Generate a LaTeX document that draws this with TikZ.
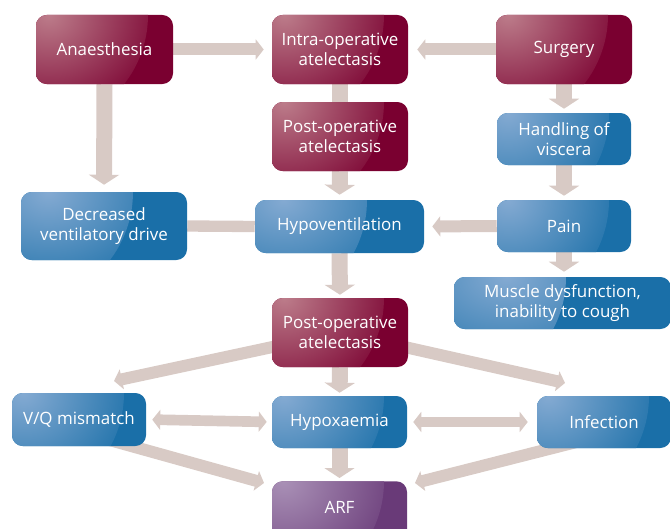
\documentclass[tikz,border=0pt]{standalone}
\usepackage{fontspec}
\setmainfont{Open Sans}
\usetikzlibrary{arrows.meta,calc,backgrounds}
\definecolor{arrowc}{HTML}{D8CAC5}
\definecolor{marL}{HTML}{BC7C8A}
\definecolor{marD}{HTML}{7A0030}
\definecolor{bluL}{HTML}{84AAD2}
\definecolor{bluD}{HTML}{1A6FA8}
\definecolor{purL}{HTML}{A990B6}
\definecolor{purD}{HTML}{693A78}
\tikzset{
  box/.style 2 args={rounded corners=8pt, minimum width=#1*0.75pt, minimum height=#2*0.75pt,
    align=center, text=white, inner sep=0pt,
    font=\fontsize{12.7}{15}\selectfont},
  gradbox/.style 2 args={fill=#2, path picture={\shade[inner color=#1, outer color=#2]
    (path picture bounding box.north west) circle (84pt);}},
  maroon/.style={gradbox={marL}{marD}},
  bluebox/.style={gradbox={bluL}{bluD}},
  purplebox/.style={gradbox={purL}{purD}},
  varrow/.style={draw=arrowc, line width=12pt, -{Triangle[width=22.5pt,length=7.5pt]}},
  harrow/.style={draw=arrowc, line width=9pt, -{Triangle[width=15pt,length=6pt]}},
  darrow/.style={draw=arrowc, line width=8pt, {Triangle[width=15pt,length=6pt]}-{Triangle[width=15pt,length=6pt]}},
  vlink/.style={draw=arrowc, line width=12pt},
  hlink/.style={draw=arrowc, line width=8.5pt},
}
\begin{document}
\begin{tikzpicture}[x=0.75pt,y=-0.75pt]
\useasboundingbox (0,0) rectangle (670,528);
\node[box={137}{69}, maroon] (anaes) at (104.5,49.5) {Anaesthesia};
\node[box={136}{69}, maroon] (intra) at (340,49.5) {Intra-operative\\atelectasis};
\node[box={136}{69}, maroon] (surg) at (564,49.5) {Surgery};
\node[box={136}{69}, maroon] (post1) at (340,136.5) {Post-operative\\atelectasis};
\node[box={134}{52}, bluebox] (hand) at (564,139) {Handling of\\viscera};
\node[box={166}{68}, bluebox] (decr) at (104,226) {Decreased\\ventilatory drive};
\node[box={169}{53}, bluebox] (hypo) at (339.5,226.5) {Hypoventilation};
\node[box={134}{52}, bluebox] (pain) at (564,226) {Pain};
\node[box={217}{52}, bluebox] (musc) at (562.5,303) {Muscle dysfunction,\\inability to cough};
\node[box={136}{69}, maroon] (post2) at (340,332.5) {Post-operative\\atelectasis};
\node[box={134}{53}, bluebox] (vq) at (79,419.5) {V/Q mismatch};
\node[box={135}{52}, bluebox] (hypox) at (339.5,422) {Hypoxaemia};
\node[box={134}{52}, bluebox] (inf) at (604,422) {Infection};
\node[box={135}{64}, purplebox, anchor=north, text height=24pt, text depth=24pt] (arf) at (339.5,481) {ARF};
\coordinate (tvq) at (114,381);
\coordinate (tinf) at (565,383);
\coordinate (svq) at ($(vq.center)+(0,12)$);
\coordinate (sinf) at ($(inf.center)+(0,13)$);
\coordinate (tarf1) at (264,483);
\coordinate (tarf2) at (415,483);
\begin{scope}[on background layer]
\draw[harrow, shorten >=6pt] (anaes.east) -- (intra.west);
\draw[harrow, shorten >=6.75pt] (surg.west) -- (intra.east);
\draw[vlink] (intra.south) -- (post1.north);
\draw[varrow, shorten >=3.75pt] (post1.south) -- (hypo.north);
\draw[varrow, shorten >=5.25pt] (anaes.south) -- (decr.north);
\draw[varrow, shorten >=3pt] (surg.south) -- (hand.north);
\draw[varrow, shorten >=3pt] (hand.south) -- (pain.north);
\draw[varrow, shorten >=3.75pt] (pain.south) -- (musc.north-|pain.south);
\draw[harrow, shorten >=6pt] (pain.west) -- (hypo.east);
\draw[hlink] (decr.east) -- (hypo.west);
\draw[varrow, shorten >=2.25pt] (hypo.south) -- (post2.north);
\draw[varrow, shorten >=2.25pt] (post2.south) -- (hypox.north);
\draw[varrow, shorten >=2.25pt] (hypox.south) -- (arf.north);
\draw[harrow] (post2.center) -- (tvq);
\draw[harrow] (post2.center) -- (tinf);
\draw[harrow] (svq) -- (tarf1);
\draw[harrow] (sinf) -- (tarf2);
\draw[darrow, shorten <=4.5pt, shorten >=3.75pt] (vq.east) -- (hypox.west);
\draw[darrow, shorten <=4.5pt, shorten >=6.75pt] (hypox.east) -- (inf.west);
\end{scope}
\end{tikzpicture}
\end{document}
